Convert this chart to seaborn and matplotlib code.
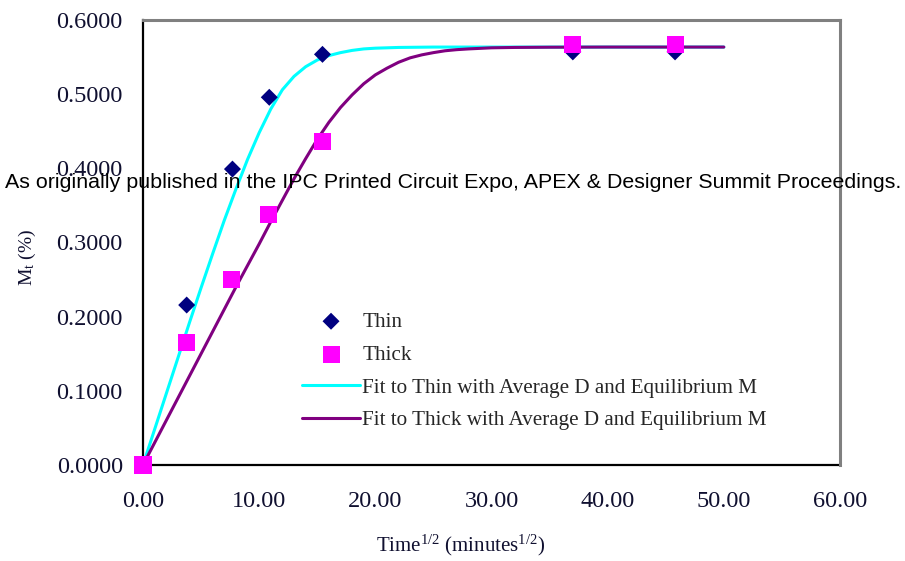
import numpy as np
import pandas as pd
import seaborn as sns
import matplotlib.pyplot as plt

# measured points (x = sqrt(time), y = Mt)
thin_x = [0.0, 3.76, 7.70, 10.87, 15.45, 37.0, 45.8]
thin_y = [0.0, 0.2157, 0.3990, 0.4958, 0.5537, 0.5570, 0.5570]
thick_x = [0.0, 3.76, 7.63, 10.84, 15.43, 37.0, 45.8]
thick_y = [0.0, 0.1649, 0.2504, 0.3380, 0.4360, 0.5676, 0.5676]

# fitted curves
fit_thin_x = [0, 1, 2, 3, 4, 5, 6, 7, 8, 9, 10, 11, 12, 13, 14, 15, 16, 17,
              18, 19, 20, 22, 25, 30, 40, 50]
fit_thin_y = [0, 0.048, 0.096, 0.144, 0.192, 0.239, 0.285, 0.330, 0.372,
              0.412, 0.448, 0.480, 0.506, 0.524, 0.537, 0.546, 0.552, 0.556,
              0.559, 0.561, 0.562, 0.563, 0.5635, 0.5635, 0.5635, 0.5635]
fit_thick_x = [0, 2, 4, 6, 8, 10, 11, 12, 13, 14, 15, 16, 17, 18, 19, 20, 21,
               22, 23, 24, 25, 26, 27, 28, 30, 32, 35, 40, 45, 50]
fit_thick_y = [0, 0.060, 0.120, 0.180, 0.240, 0.298, 0.328, 0.357, 0.386,
               0.413, 0.439, 0.462, 0.482, 0.499, 0.514, 0.526, 0.535, 0.543,
               0.549, 0.553, 0.556, 0.5585, 0.560, 0.561, 0.5625, 0.563,
               0.5633, 0.5635, 0.5635, 0.5635]

x_ticks = [0, 10, 20, 30, 40, 50, 60]
y_ticks = [0.0, 0.1, 0.2, 0.3, 0.4, 0.5, 0.6]

labels = ["Thin", "Thick",
          "Fit to Thin with Average D and Equilibrium M",
          "Fit to Thick with Average D and Equilibrium M"]

sns.set_style("white")
plt.rcParams["font.family"] = ["Liberation Serif", "DejaVu Serif"]
plt.rcParams["mathtext.fontset"] = "custom"
plt.rcParams["mathtext.rm"] = "Liberation Serif"
plt.rcParams["mathtext.it"] = "Liberation Serif:italic"

fig = plt.figure(figsize=(9.05, 5.61), dpi=100)
ax = fig.add_axes([143 / 905, 96 / 561, 697 / 905, 445 / 561])

# fit lines
sns.lineplot(x=fit_thin_x, y=fit_thin_y, color="#00FFFF", lw=2.2,
             label=labels[2], ax=ax, zorder=2)
sns.lineplot(x=fit_thick_x, y=fit_thick_y, color="#800080", lw=2.2,
             label=labels[3], ax=ax, zorder=3)

# data points
sns.scatterplot(x=thin_x, y=thin_y, marker="D", s=75, color="#000080",
                edgecolor="none", label=labels[0], ax=ax, zorder=4,
                clip_on=False)
sns.scatterplot(x=thick_x, y=thick_y, marker="s", s=150, color="#FF00FF",
                edgecolor="none", label=labels[1], ax=ax, zorder=5,
                clip_on=False)

ax.set_xlim(0, 60)
ax.set_ylim(0, 0.6)
ax.set_xticks(x_ticks)
ax.set_yticks(y_ticks)
ax.set_xticklabels([f"{v:.2f}" for v in x_ticks])
ax.set_yticklabels([f"{v:.4f}" for v in y_ticks])

for side in ["left", "bottom"]:
    ax.spines[side].set_color("black")
    ax.spines[side].set_linewidth(1.6)
    ax.spines[side].set_zorder(1)
for side in ["top", "right"]:
    ax.spines[side].set_color("#808080")
    ax.spines[side].set_linewidth(2.2)

ax.tick_params(axis="both", direction="inout", length=13, width=1.2,
               color="black", labelsize=17.5, labelcolor="#101030")
ax.tick_params(axis="y", pad=8)
ax.tick_params(axis="x", pad=12)

ax.set_xlabel("Time$^{1/2}$ (minutes$^{1/2}$)", fontsize=15)
ax.set_ylabel("M$_{\\rm t}$ (%)", fontsize=14)
ax.xaxis.set_label_coords((461 - 143) / 697, -(545 - 465) / 445)
ax.yaxis.set_label_coords(-(143 - 27) / 697, (465 - 257) / 445)
for lab in [ax.xaxis.label, ax.yaxis.label]:
    lab.set_color("#101030")
    lab.set_verticalalignment("center")

# legend in the same order as the original
handles, labs = ax.get_legend_handles_labels()
order = [labs.index(l) for l in labels]
ax.legend([handles[i] for i in order], [labs[i] for i in order],
          loc="upper left", bbox_to_anchor=(302 / 905, 1 - 312 / 561),
          bbox_transform=fig.transFigure, frameon=False, fontsize=15.2,
          handlelength=2.75, handletextpad=0.1, labelspacing=0.62,
          borderpad=0, borderaxespad=0)

fig.text(5 / 905, 1 - 183 / 561,
         "As originally published in the IPC Printed Circuit Expo, APEX & Designer Summit Proceedings.",
         family=["Liberation Sans", "DejaVu Sans"], fontsize=15.4,
         ha="left", va="center", color="black", zorder=10)

fig.savefig("out.png", dpi=100)
